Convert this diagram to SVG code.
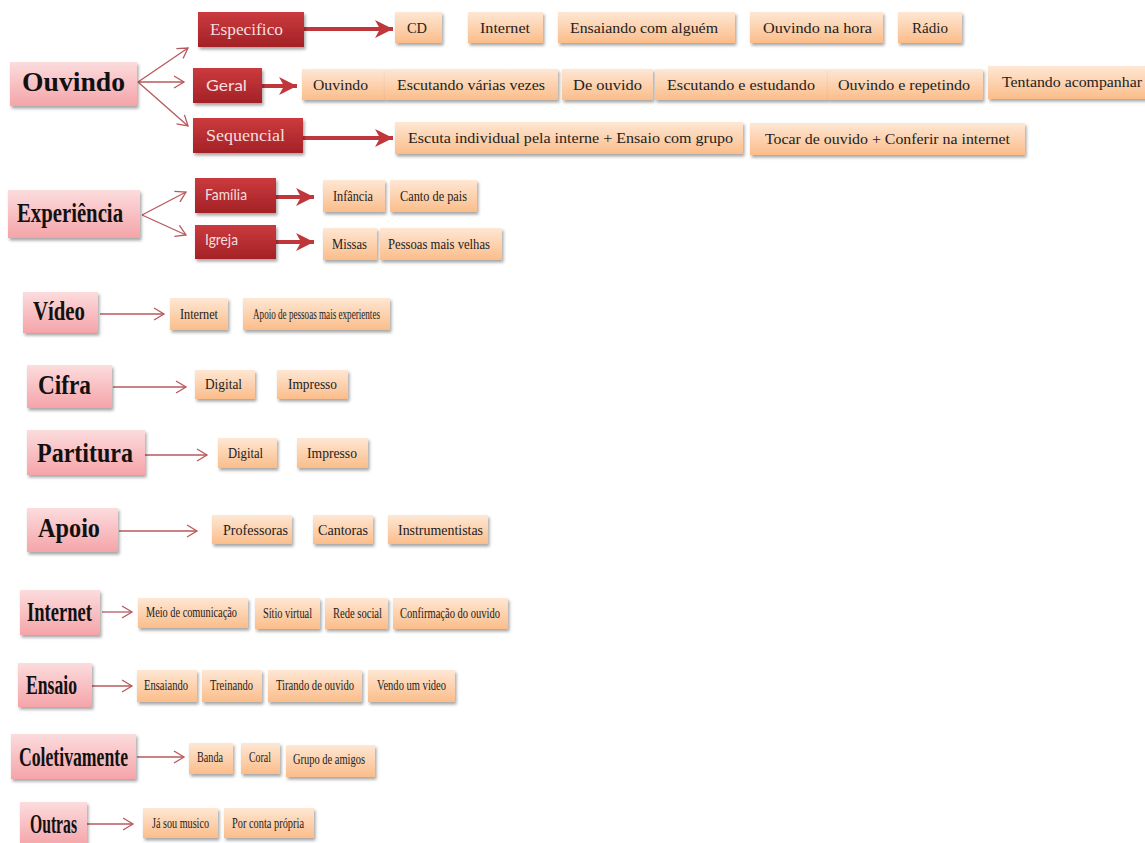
<svg xmlns="http://www.w3.org/2000/svg" width="1145" height="843" viewBox="0 0 1145 843">
<defs>
<linearGradient id="gPink" x1="0" y1="0" x2="0" y2="1"><stop offset="0" stop-color="#fcdcdd"/><stop offset="1" stop-color="#f5a4a9"/></linearGradient>
<linearGradient id="gRed" x1="0" y1="0" x2="0" y2="1"><stop offset="0" stop-color="#cb3a3e"/><stop offset="1" stop-color="#a32226"/></linearGradient>
<linearGradient id="gPeach" x1="0" y1="0" x2="0" y2="1"><stop offset="0" stop-color="#fee7d4"/><stop offset="1" stop-color="#fbbd8a"/></linearGradient>
<filter id="sh" x="-10%" y="-20%" width="125%" height="150%"><feDropShadow dx="1.5" dy="2.5" stdDeviation="1.5" flood-color="#000" flood-opacity="0.35"/></filter>
<marker id="mThin" markerUnits="userSpaceOnUse" markerWidth="14" markerHeight="14" viewBox="0 0 14 14" refX="12" refY="7" orient="auto"><path d="M2,1 L12,7 L2,13" fill="none" stroke="#b8585b" stroke-width="1.3"/></marker>
<marker id="mThick" markerUnits="userSpaceOnUse" markerWidth="22" markerHeight="22" viewBox="0 0 22 22" refX="20" refY="11" orient="auto"><path d="M2,2 L20,11 L2,20 L7,11 Z" fill="#c0373b"/></marker>
<style>
.pink{fill:url(#gPink);filter:url(#sh)}
.red{fill:url(#gRed);filter:url(#sh)}
.peach{fill:url(#gPeach);filter:url(#sh)}
.ttl{font-weight:bold;font-size:28px;fill:#111}
.lbl{font-size:14px;fill:#222}
.rs{font-size:16px;fill:#f7dede}
.rsa{font-size:15px;fill:#f7dede}
.thin{stroke:#b8585b;stroke-width:1.3;fill:none;marker-end:url(#mThin)}
.thick{stroke:#c0373b;stroke-width:4;fill:none;marker-end:url(#mThick)}
</style>
</defs>
<rect width="1145" height="843" fill="#fff"/>

<g id="connectors">
<line class="thin" x1="138" y1="82" x2="188" y2="48"/>
<line class="thin" x1="138" y1="82" x2="184" y2="82"/>
<line class="thin" x1="138" y1="82" x2="188" y2="126"/>
<line class="thin" x1="142" y1="215" x2="186" y2="192"/>
<line class="thin" x1="142" y1="215" x2="186" y2="235"/>
<line class="thin" x1="100" y1="314" x2="164" y2="314"/>
<line class="thin" x1="113" y1="387" x2="186" y2="387"/>
<line class="thin" x1="145" y1="455" x2="207" y2="455"/>
<line class="thin" x1="119" y1="531" x2="197" y2="531"/>
<line class="thin" x1="102" y1="612" x2="132" y2="612"/>
<line class="thin" x1="92" y1="686" x2="132" y2="686"/>
<line class="thin" x1="137" y1="757" x2="184" y2="757"/>
<line class="thin" x1="87" y1="824" x2="133" y2="824"/>
<line class="thick" x1="304" y1="29" x2="393" y2="29"/>
<line class="thick" x1="262" y1="86" x2="297" y2="86"/>
<line class="thick" x1="303" y1="138" x2="393" y2="138"/>
<line class="thick" x1="276" y1="197" x2="314" y2="197"/>
<line class="thick" x1="276" y1="242" x2="314" y2="242"/>
</g>

<g font-family="Liberation Serif, Times New Roman, serif">
<g id="n-ouvindo"><rect class="pink" x="10" y="62" width="127" height="44"/><text class="ttl" x="22" y="91" textLength="103" lengthAdjust="spacingAndGlyphs">Ouvindo</text></g>
<g id="n-experiencia"><rect class="pink" x="8" y="190" width="132" height="48"/><text class="ttl" x="17" y="222" textLength="106" lengthAdjust="spacingAndGlyphs">Experiência</text></g>
<g id="n-video"><rect class="pink" x="23" y="292" width="75" height="41"/><text class="ttl" x="33" y="320" textLength="52" lengthAdjust="spacingAndGlyphs">Vídeo</text></g>
<g id="n-cifra"><rect class="pink" x="27" y="365" width="85" height="43"/><text class="ttl" x="38" y="394" textLength="53" lengthAdjust="spacingAndGlyphs">Cifra</text></g>
<g id="n-partitura"><rect class="pink" x="27" y="430" width="118" height="45"/><text class="ttl" x="37" y="462" textLength="96" lengthAdjust="spacingAndGlyphs">Partitura</text></g>
<g id="n-apoio"><rect class="pink" x="27" y="508" width="91" height="44"/><text class="ttl" x="38" y="537" textLength="62" lengthAdjust="spacingAndGlyphs">Apoio</text></g>
<g id="n-internet"><rect class="pink" x="20" y="590" width="80" height="45"/><text class="ttl" x="27" y="621" textLength="65" lengthAdjust="spacingAndGlyphs">Internet</text></g>
<g id="n-ensaio"><rect class="pink" x="18" y="663" width="74" height="44"/><text class="ttl" x="26" y="694" textLength="51" lengthAdjust="spacingAndGlyphs">Ensaio</text></g>
<g id="n-coletivamente"><rect class="pink" x="11" y="734" width="125" height="45"/><text class="ttl" x="19" y="766" textLength="109" lengthAdjust="spacingAndGlyphs">Coletivamente</text></g>
<g id="n-outras"><rect class="pink" x="20" y="802" width="67" height="44"/><text class="ttl" x="30" y="833" textLength="47" lengthAdjust="spacingAndGlyphs">Outras</text></g>

<g id="n-especifico"><rect class="red" x="198" y="12" width="106" height="35"/><text class="rs" x="210" y="35" textLength="73" lengthAdjust="spacingAndGlyphs">Especifico</text></g>
<g id="n-geral"><rect class="red" x="193" y="68" width="69" height="35"/><text class="rsa" font-family="Lato, Liberation Sans, sans-serif" x="206" y="91" textLength="41" lengthAdjust="spacingAndGlyphs">Geral</text></g>
<g id="n-sequencial"><rect class="red" x="193" y="118" width="110" height="35"/><text class="rs" x="206" y="141" textLength="79" lengthAdjust="spacingAndGlyphs">Sequencial</text></g>
<g id="n-familia"><rect class="red" x="195" y="178" width="81" height="35"/><text class="rsa" font-family="Lato, Liberation Sans, sans-serif" x="205" y="200" textLength="42" lengthAdjust="spacingAndGlyphs">Família</text></g>
<g id="n-igreja"><rect class="red" x="195" y="225" width="81" height="34"/><text class="rsa" font-family="Lato, Liberation Sans, sans-serif" x="205" y="245" textLength="33" lengthAdjust="spacingAndGlyphs">Igreja</text></g>

<g id="l-cd"><rect class="peach" x="395" y="12" width="47" height="31"/><text class="lbl" x="407" y="33" textLength="20" lengthAdjust="spacingAndGlyphs">CD</text></g>
<g id="l-internet1"><rect class="peach" x="468" y="12" width="75" height="31"/><text class="lbl" x="480" y="33" textLength="50" lengthAdjust="spacingAndGlyphs">Internet</text></g>
<g id="l-ensaiando-alguem"><rect class="peach" x="558" y="12" width="177" height="31"/><text class="lbl" x="570" y="33" textLength="148" lengthAdjust="spacingAndGlyphs">Ensaiando com alguém</text></g>
<g id="l-ouvindo-hora"><rect class="peach" x="750" y="12" width="133" height="31"/><text class="lbl" x="763" y="33" textLength="109" lengthAdjust="spacingAndGlyphs">Ouvindo na hora</text></g>
<g id="l-radio"><rect class="peach" x="898" y="12" width="64" height="31"/><text class="lbl" x="912" y="33" textLength="36" lengthAdjust="spacingAndGlyphs">Rádio</text></g>

<g id="l-ouvindo"><rect class="peach" x="302" y="69" width="83" height="31"/><text class="lbl" x="313" y="90" textLength="55" lengthAdjust="spacingAndGlyphs">Ouvindo</text></g>
<g id="l-escutando-varias"><rect class="peach" x="385" y="69" width="173" height="31"/><text class="lbl" x="397" y="90" textLength="148" lengthAdjust="spacingAndGlyphs">Escutando várias vezes</text></g>
<g id="l-de-ouvido"><rect class="peach" x="562" y="69" width="91" height="31"/><text class="lbl" x="573" y="90" textLength="69" lengthAdjust="spacingAndGlyphs">De ouvido</text></g>
<g id="l-escutando-estudando"><rect class="peach" x="655" y="69" width="173" height="31"/><text class="lbl" x="667" y="90" textLength="148" lengthAdjust="spacingAndGlyphs">Escutando e estudando</text></g>
<g id="l-ouvindo-repetindo"><rect class="peach" x="828" y="69" width="155" height="31"/><text class="lbl" x="838" y="90" textLength="132" lengthAdjust="spacingAndGlyphs">Ouvindo e repetindo</text></g>
<g id="l-tentando"><rect class="peach" x="988" y="66" width="160" height="33"/><text class="lbl" x="1002" y="87" textLength="140" lengthAdjust="spacingAndGlyphs">Tentando acompanhar</text></g>

<g id="l-escuta-individual"><rect class="peach" x="395" y="122" width="348" height="32"/><text class="lbl" x="408" y="143" textLength="325" lengthAdjust="spacingAndGlyphs">Escuta individual pela interne + Ensaio com grupo</text></g>
<g id="l-tocar"><rect class="peach" x="750" y="123" width="275" height="32"/><text class="lbl" x="765" y="144" textLength="245" lengthAdjust="spacingAndGlyphs">Tocar de ouvido + Conferir na internet</text></g>

<g id="l-infancia"><rect class="peach" x="323" y="180" width="62" height="32"/><text class="lbl" x="333" y="201" textLength="40" lengthAdjust="spacingAndGlyphs">Infância</text></g>
<g id="l-canto"><rect class="peach" x="390" y="180" width="87" height="32"/><text class="lbl" x="400" y="201" textLength="67" lengthAdjust="spacingAndGlyphs">Canto de pais</text></g>
<g id="l-missas"><rect class="peach" x="323" y="228" width="54" height="32"/><text class="lbl" x="332" y="249" textLength="35" lengthAdjust="spacingAndGlyphs">Missas</text></g>
<g id="l-pessoas"><rect class="peach" x="380" y="228" width="122" height="32"/><text class="lbl" x="388" y="249" textLength="102" lengthAdjust="spacingAndGlyphs">Pessoas mais velhas</text></g>

<g id="l-video-internet"><rect class="peach" x="170" y="298" width="58" height="32"/><text class="lbl" x="180" y="319" textLength="38" lengthAdjust="spacingAndGlyphs">Internet</text></g>
<g id="l-apoio-pessoas"><rect class="peach" x="243" y="298" width="147" height="32"/><text class="lbl" x="253" y="319" textLength="127" lengthAdjust="spacingAndGlyphs">Apoio de pessoas mais experientes</text></g>

<g id="l-cifra-digital"><rect class="peach" x="195" y="370" width="60" height="29"/><text class="lbl" x="205" y="389" textLength="37" lengthAdjust="spacingAndGlyphs">Digital</text></g>
<g id="l-cifra-impresso"><rect class="peach" x="277" y="370" width="71" height="29"/><text class="lbl" x="288" y="389" textLength="49" lengthAdjust="spacingAndGlyphs">Impresso</text></g>

<g id="l-part-digital"><rect class="peach" x="218" y="438" width="59" height="30"/><text class="lbl" x="228" y="458" textLength="35" lengthAdjust="spacingAndGlyphs">Digital</text></g>
<g id="l-part-impresso"><rect class="peach" x="297" y="438" width="71" height="30"/><text class="lbl" x="307" y="458" textLength="50" lengthAdjust="spacingAndGlyphs">Impresso</text></g>

<g id="l-professoras"><rect class="peach" x="212" y="515" width="80" height="29"/><text class="lbl" x="223" y="535" textLength="65" lengthAdjust="spacingAndGlyphs">Professoras</text></g>
<g id="l-cantoras"><rect class="peach" x="313" y="515" width="60" height="29"/><text class="lbl" x="318" y="535" textLength="50" lengthAdjust="spacingAndGlyphs">Cantoras</text></g>
<g id="l-instrumentistas"><rect class="peach" x="388" y="515" width="100" height="29"/><text class="lbl" x="398" y="535" textLength="85" lengthAdjust="spacingAndGlyphs">Instrumentistas</text></g>

<g id="l-meio"><rect class="peach" x="138" y="598" width="110" height="30"/><text class="lbl" x="146" y="617" textLength="91" lengthAdjust="spacingAndGlyphs">Meio de comunicação</text></g>
<g id="l-sitio"><rect class="peach" x="255" y="598" width="65" height="31"/><text class="lbl" x="263" y="618" textLength="49" lengthAdjust="spacingAndGlyphs">Sítio virtual</text></g>
<g id="l-rede"><rect class="peach" x="325" y="598" width="63" height="31"/><text class="lbl" x="333" y="618" textLength="49" lengthAdjust="spacingAndGlyphs">Rede social</text></g>
<g id="l-confirmacao"><rect class="peach" x="393" y="598" width="115" height="31"/><text class="lbl" x="400" y="618" textLength="100" lengthAdjust="spacingAndGlyphs">Confirmação  do ouvido</text></g>

<g id="l-ensaiando"><rect class="peach" x="137" y="670" width="60" height="32"/><text class="lbl" x="144" y="690" textLength="44" lengthAdjust="spacingAndGlyphs">Ensaiando</text></g>
<g id="l-treinando"><rect class="peach" x="202" y="670" width="60" height="32"/><text class="lbl" x="210" y="690" textLength="43" lengthAdjust="spacingAndGlyphs">Treinando</text></g>
<g id="l-tirando"><rect class="peach" x="268" y="670" width="94" height="32"/><text class="lbl" x="276" y="690" textLength="78" lengthAdjust="spacingAndGlyphs">Tirando de ouvido</text></g>
<g id="l-vendo"><rect class="peach" x="368" y="670" width="87" height="32"/><text class="lbl" x="377" y="690" textLength="69" lengthAdjust="spacingAndGlyphs">Vendo um video</text></g>

<g id="l-banda"><rect class="peach" x="189" y="743" width="44" height="31"/><text class="lbl" x="197" y="762" textLength="26" lengthAdjust="spacingAndGlyphs">Banda</text></g>
<g id="l-coral"><rect class="peach" x="241" y="743" width="39" height="31"/><text class="lbl" x="249" y="762" textLength="22" lengthAdjust="spacingAndGlyphs">Coral</text></g>
<g id="l-grupo"><rect class="peach" x="286" y="745" width="89" height="32"/><text class="lbl" x="293" y="764" textLength="72" lengthAdjust="spacingAndGlyphs">Grupo de amigos</text></g>

<g id="l-ja-sou"><rect class="peach" x="143" y="808" width="75" height="30"/><text class="lbl" x="152" y="828" textLength="57" lengthAdjust="spacingAndGlyphs">Já sou musico</text></g>
<g id="l-por-conta"><rect class="peach" x="224" y="808" width="90" height="30"/><text class="lbl" x="232" y="828" textLength="72" lengthAdjust="spacingAndGlyphs">Por conta própria</text></g>
</g>
</svg>
